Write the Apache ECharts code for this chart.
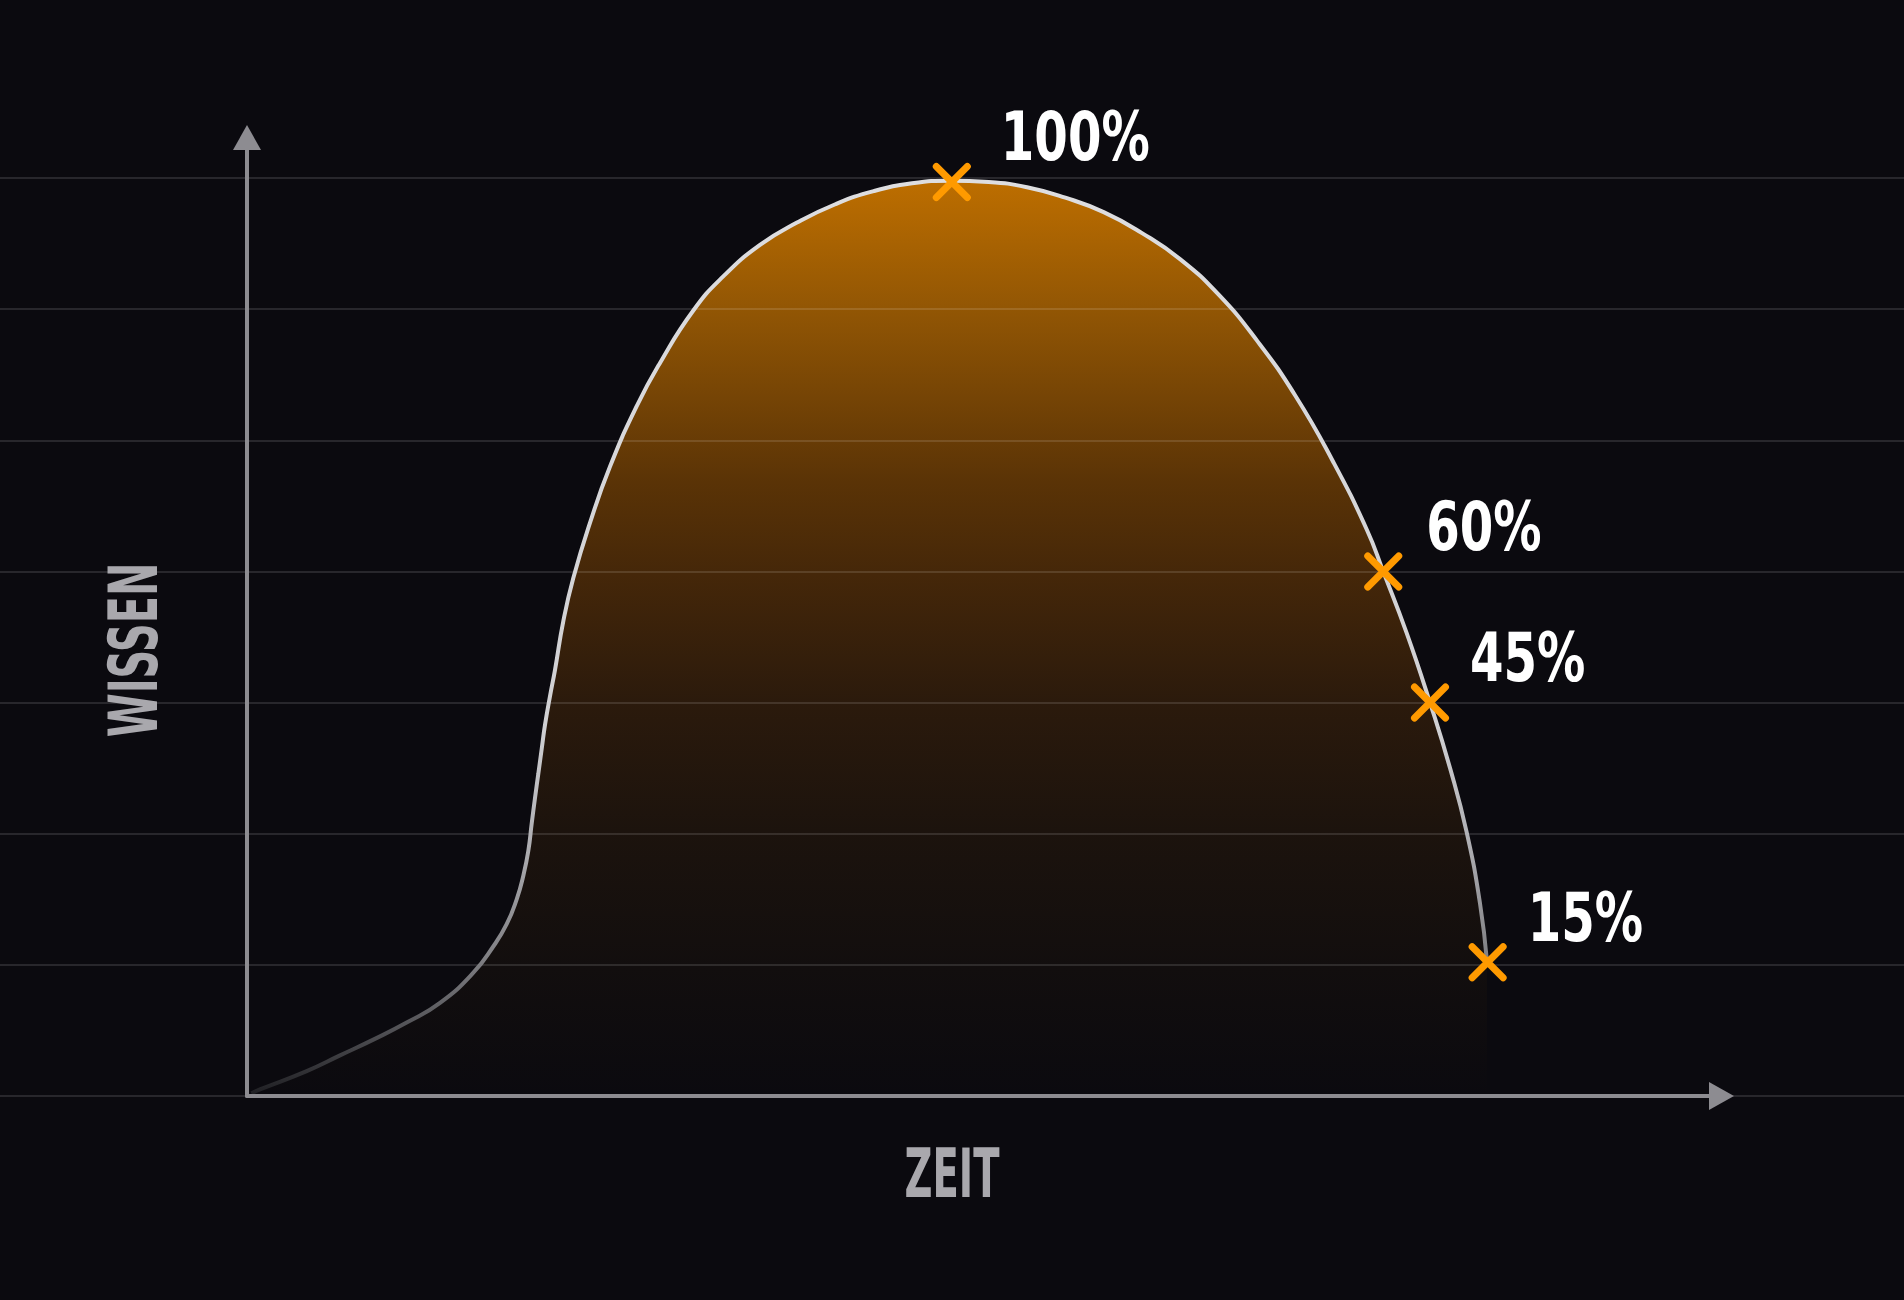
<!DOCTYPE html>
<html>
<head>
<meta charset="utf-8">
<script src="https://cdn.jsdelivr.net/npm/echarts@6/dist/echarts.min.js"></script>
<style>
html,body{margin:0;padding:0;background:#0b0a0f;}
#chart{width:1904px;height:1300px;}
</style>
</head>
<body>
<div id="chart"></div>
<script>
// ---- data (x: time units 0..100, y: knowledge in guide-line units 0..7) ----
const curveX = [0.3, 0.88, 4.05, 6.31, 8.57, 10.83, 13.09, 15.35, 16.70, 17.61, 18.29, 18.74, 19.08, 19.31, 19.53, 19.76, 19.99, 20.21, 20.55, 20.89, 21.45, 22.13, 23.26, 24.62, 26.43, 28.01, 30.27, 32.30, 34.79, 37.30, 39.90, 42.50, 45.10, 47.70, 50.30, 52.90, 55.50, 58.10, 60.70, 63.30, 65.90, 68.50, 71.10, 73.60, 75.94, 77.06, 78.65, 80.23, 81.59, 82.72, 83.62, 84.10];
const curveY = [0.02, 0.05, 0.19, 0.31, 0.43, 0.56, 0.71, 0.94, 1.14, 1.31, 1.50, 1.68, 1.87, 2.08, 2.27, 2.46, 2.65, 2.83, 3.05, 3.25, 3.62, 3.95, 4.37, 4.80, 5.26, 5.59, 5.99, 6.25, 6.49, 6.66, 6.80, 6.90, 6.96, 6.98, 6.97, 6.93, 6.85, 6.74, 6.58, 6.38, 6.11, 5.76, 5.34, 4.85, 4.32, 4.00, 3.53, 3.00, 2.50, 2.01, 1.47, 1.02];
const markX = [47.8, 77.06, 80.23, 84.14];
const markY = [6.97, 4.00, 3.00, 1.02];
const markLabels = ['100%', '60%', '45%', '15%'];
const guideLevels = [0, 1, 2, 3, 4, 5, 6, 7];
const xAxisTitle = 'ZEIT';
const yAxisTitle = 'WISSEN';

// ---- styles ----
const FONT = "'DejaVu Sans Condensed', 'Liberation Sans Narrow', sans-serif";
const AXIS_COLOR = '#8d8c91';
const TITLE_COLOR = '#a9a8ad';
const LABEL_DX = [49, 43, 40, 40];
const LABEL_DY = -39;
const LABEL_SIZE = 67;
const LABEL_SCALE_X = 0.80;
const TITLE_SIZE = 67;

const curve = curveX.map((x, i) => [x, curveY[i]]);
const marks = markX.map((x, i) => [x, markY[i]]);

const chart = echarts.init(document.getElementById('chart'), null, { renderer: 'canvas' });

const hiddenAxisParts = { axisTick: { show: false }, axisLabel: { show: false }, splitLine: { show: false } };
const arrowLine = { show: true, onZero: false, symbol: ['none', 'triangle'], symbolSize: [28, 25],
  lineStyle: { color: AXIS_COLOR, width: 4 } };

const option = {
  backgroundColor: '#0b0a0f',
  animation: false,
  grid: [
    { left: 0, right: 0, top: 178, bottom: 204 },
    { left: 247, right: 182.5, top: 137.5, bottom: 204 }
  ],
  xAxis: [
    { gridIndex: 0, type: 'value', min: 0, max: 1, show: false },
    Object.assign({ gridIndex: 1, type: 'value', min: 0, max: 100, z: 5, axisLine: arrowLine }, hiddenAxisParts)
  ],
  yAxis: [
    {
      gridIndex: 0, type: 'value', min: guideLevels[0], max: guideLevels[guideLevels.length - 1], interval: 1, z: 2,
      axisLine: { show: false }, axisTick: { show: false }, axisLabel: { show: false },
      splitLine: { show: true, lineStyle: { color: 'rgba(255,255,255,0.12)', width: 2 } }
    },
    Object.assign({ gridIndex: 1, type: 'value', min: 0, max: 7.309, z: 5, axisLine: arrowLine }, hiddenAxisParts)
  ],
  series: [
    {
      type: 'line', xAxisIndex: 1, yAxisIndex: 1, z: 1, data: curve, smooth: 0.5,
      showSymbol: false, silent: true,
      lineStyle: { width: 0, opacity: 0 },
      areaStyle: {
        opacity: 1,
        color: new echarts.graphic.LinearGradient(0, 0, 0, 1, [
          { offset: 0, color: '#bd6e00' },
          { offset: 0.14, color: '#925604' },
          { offset: 0.33, color: '#5a3306' },
          { offset: 0.43, color: '#452709' },
          { offset: 0.57, color: '#2b1a0c' },
          { offset: 0.71, color: '#1c130d' },
          { offset: 0.86, color: '#120e0e' },
          { offset: 1, color: '#0b0a0f' }
        ])
      }
    },
    {
      type: 'line', xAxisIndex: 1, yAxisIndex: 1, z: 3, data: curve, smooth: 0.5,
      showSymbol: false, silent: true,
      lineStyle: {
        width: 4,
        color: new echarts.graphic.LinearGradient(0, 0, 0, 1, [
          { offset: 0, color: '#dedee0' },
          { offset: 0.6, color: '#d0d0d3' },
          { offset: 0.72, color: '#b0b0b4' },
          { offset: 0.85, color: '#808084' },
          { offset: 0.93, color: '#505054' },
          { offset: 1, color: '#1e1e22' }
        ])
      }
    },
    {
      type: 'scatter', xAxisIndex: 1, yAxisIndex: 1, z: 4, data: marks, silent: true,
      symbol: 'path://M0,0L10,10M10,0L0,10', symbolSize: 31,
      itemStyle: { color: 'rgba(0,0,0,0)', opacity: 1, borderColor: '#ff9a00', borderWidth: 7, borderCap: 'round' }
    }
  ]
};
chart.setOption(option);

// value labels placed next to each marker through the chart's own scales
const labelEls = marks.map((m, i) => {
  const p = chart.convertToPixel({ xAxisIndex: 1, yAxisIndex: 1 }, m);
  return {
    type: 'text', x: p[0] + LABEL_DX[i], y: p[1] + LABEL_DY, scaleX: LABEL_SCALE_X, z: 10, silent: true,
    style: { text: markLabels[i], fill: '#ffffff', fontSize: LABEL_SIZE, fontWeight: 'bold', fontFamily: FONT,
      align: 'left', verticalAlign: 'middle', textAlign: 'left', textVerticalAlign: 'middle' }
  };
});
const titleEls = [
  { type: 'text', x: 140, y: 650, rotation: Math.PI / 2, scaleX: 0.66, z: 10, silent: true,
    style: { text: yAxisTitle, fill: TITLE_COLOR, fontSize: TITLE_SIZE, fontWeight: 'bold', fontFamily: FONT,
      align: 'center', verticalAlign: 'middle', textAlign: 'center', textVerticalAlign: 'middle' } },
  { type: 'text', x: 952, y: 1180, scaleX: 0.64, z: 10, silent: true,
    style: { text: xAxisTitle, fill: TITLE_COLOR, fontSize: TITLE_SIZE, fontWeight: 'bold', fontFamily: FONT,
      align: 'center', verticalAlign: 'middle', textAlign: 'center', textVerticalAlign: 'middle' } }
];
chart.setOption({ graphic: labelEls.concat(titleEls) });
</script>
</body>
</html>
